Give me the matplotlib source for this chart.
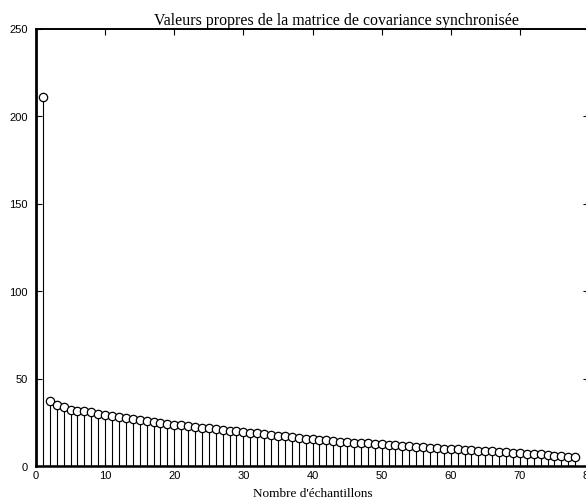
import numpy as np
import matplotlib
matplotlib.use("Agg")
import matplotlib.pyplot as plt

# Valeurs propres
indices = np.arange(1, 79)
valeurs = [
    211.0, 37.1, 35.0, 33.8, 32.2, 31.7, 31.2, 30.6, 30.0, 29.2,
    28.7, 28.2, 27.5, 26.9, 26.4, 25.9, 25.3, 24.6, 24.1, 23.6,
    23.2, 22.8, 22.4, 22.0, 21.5, 21.1, 20.7, 20.2, 19.8, 19.4,
    19.0, 18.6, 18.2, 17.8, 17.4, 17.0, 16.5, 16.1, 15.6, 15.2,
    14.9, 14.6, 14.3, 14.0, 13.7, 13.4, 13.1, 12.9, 12.6, 12.4,
    12.1, 11.8, 11.5, 11.2, 10.9, 10.7, 10.5, 10.2, 10.0, 9.7,
    9.5, 9.3, 9.1, 8.8, 8.6, 8.4, 8.1, 7.9, 7.6, 7.4,
    7.1, 6.9, 6.6, 6.3, 6.0, 5.7, 5.4, 5.0,
]
xticks = [0, 10, 20, 30, 40, 50, 60, 70, 80]
yticks = [0, 50, 100, 150, 200, 250]

titre = "Valeurs propres de la matrice de covariance synchronisée"
xlabel = "Nombre d'échantillons"

fig = plt.figure(figsize=(5.86, 5.02), dpi=100)
ax = fig.add_axes([36 / 586, 35 / 502, 553 / 586, 437.5 / 502])

markerline, stemlines, baseline = ax.stem(indices, valeurs, linefmt="k-",
                                          markerfmt="o", basefmt="k-")
stemlines.set_linewidth(0.8)
stemlines.set_color("black")
markerline.set_markerfacecolor("white")
markerline.set_markeredgecolor("black")
markerline.set_markersize(6)
markerline.set_markeredgewidth(0.9)
markerline.set_zorder(3)
markerline.set_clip_on(False)
baseline.set_linewidth(1.0)

ax.set_xlim(0, 80)
ax.set_ylim(0, 250)
ax.set_xticks(xticks)
ax.set_yticks(yticks)

for lab in ax.get_xticklabels() + ax.get_yticklabels():
    lab.set_family("Liberation Sans")
    lab.set_fontsize(8)

ax.tick_params(direction="in", length=4, width=0.8, top=True, right=True,
               pad=3)
ax.tick_params(axis="y", pad=6)

ax.spines["left"].set_linewidth(2.0)
ax.spines["bottom"].set_linewidth(1.8)
ax.spines["top"].set_linewidth(1.4)
ax.spines["right"].set_linewidth(1.4)

ax.set_title(titre, family="Liberation Serif", fontsize=11.4, x=0.544, pad=3)
ax.set_xlabel(xlabel, family="Liberation Serif", fontsize=9.5, labelpad=5)

fig.savefig("out.png", dpi=100)
